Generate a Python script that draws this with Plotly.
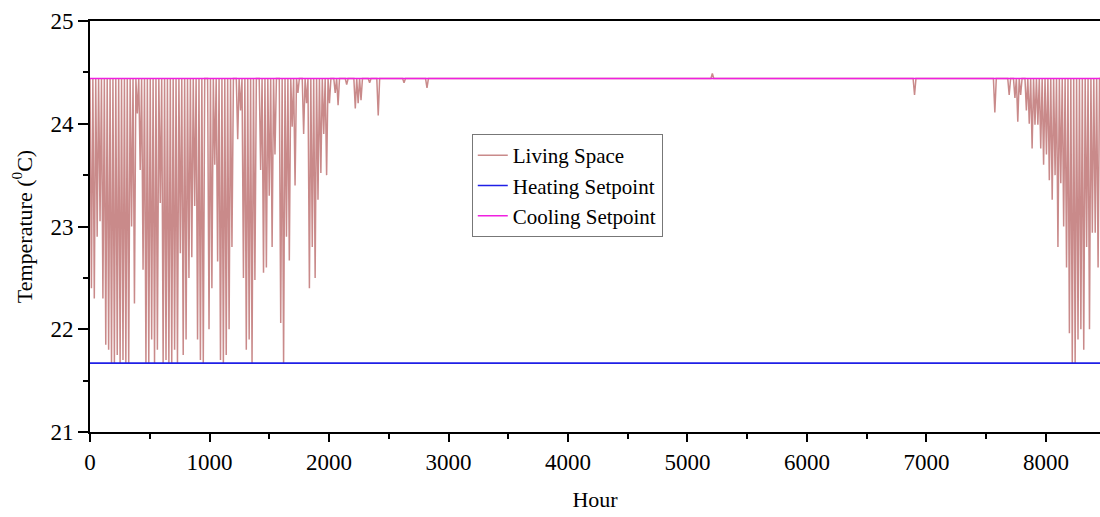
import plotly.graph_objects as go

# ---- data ----
cooling_setpoint = 24.44   # degC
heating_setpoint = 21.67   # degC

# days (0-based day of year) on which the living-space temperature dips below
# the cooling setpoint, and the minimum temperature reached that day
dip_days = list(range(0, 84)) + [85, 86, 89, 92, 93, 94, 97, 100, 109, 117, 287,
            315, 320, 322, 323, 324, 326, 327, 328, 329, 330, 331, 332, 333, 334, 335,
            336, 337, 338, 339, 340, 341, 342, 343, 344, 345, 346, 347, 348, 349, 350, 351, 352]
dip_mins = [
    22.40, 22.30, 22.90, 23.05, 22.30, 21.85, 21.80, 21.67, 21.67, 21.75,
    21.67, 21.70, 21.67, 21.67, 23.00, 22.25, 24.10, 23.55, 22.58, 21.67,
    21.67, 21.90, 21.67, 21.80, 23.23, 21.67, 21.70, 21.67, 21.67, 21.80,
    21.67, 22.74, 21.75, 21.90, 22.50, 22.70, 23.20, 21.90, 21.70, 21.67,
    24.44, 22.00, 22.40, 23.60, 22.66, 21.70, 21.67, 21.75, 22.00, 22.80,
    24.44, 23.85, 24.13, 22.50, 21.80, 21.90, 21.67, 22.48, 24.44, 23.55,
    22.55, 22.60, 23.30, 22.80, 23.70, 24.44, 22.06, 21.67, 22.90, 22.67,
    23.97, 23.40, 24.30, 24.44, 23.90, 24.20, 22.40, 22.80, 22.50, 23.26,
    23.52, 23.90, 23.50, 24.20,
    24.30, 24.18, 24.38, 24.15, 24.20, 24.23, 24.40, 24.08, 24.40, 24.35, 24.28,
    24.11, 24.28, 24.25, 24.02, 24.28, 24.13, 24.00, 23.76, 23.99, 23.99, 23.76,
    23.60, 23.70, 23.45, 23.26, 23.50, 22.80, 23.42, 23.00, 22.60, 21.96,
    21.67, 21.67, 21.90, 22.00, 21.80, 22.80, 22.00, 22.94, 22.94, 22.60,
]
# days on which the temperature briefly exceeds the cooling setpoint
peak_days = [217]
peak_maxes = [24.49]

n_days = 365
x_ticks = [0, 1000, 2000, 3000, 4000, 5000, 6000, 7000, 8000]
y_ticks = [21, 22, 23, 24, 25]

# ---- build the living-space trace (one min and one max point per day) ----
dmin = dict(zip(dip_days, dip_mins))
dmax = dict(zip(peak_days, peak_maxes))
xs, ys = [], []
for d in range(n_days):
    xs.append(d * 24)
    ys.append(dmax.get(d, cooling_setpoint))
    xs.append(d * 24 + 12)
    ys.append(dmin.get(d, cooling_setpoint))
xs.append(n_days * 24)
ys.append(cooling_setpoint)

serif = "Liberation Serif, Times New Roman, serif"

fig = go.Figure()
fig.add_trace(go.Scatter(x=xs, y=ys, mode="lines", name="Living Space",
                         line=dict(color="#c98a8a", width=1.5)))
fig.add_trace(go.Scatter(x=[0, n_days * 24], y=[heating_setpoint] * 2, mode="lines",
                         name="Heating Setpoint", line=dict(color="#1f1fe6", width=1.6)))
fig.add_trace(go.Scatter(x=[0, n_days * 24], y=[cooling_setpoint] * 2, mode="lines",
                         name="Cooling Setpoint", line=dict(color="#f020e0", width=1.6)))

fig.update_layout(
    width=1100, height=517,
    margin=dict(l=90, r=0, t=21, b=85),
    paper_bgcolor="white", plot_bgcolor="white",
    font=dict(family=serif, size=22, color="black"),
    showlegend=True,
    legend=dict(x=0.378, y=0.725, xanchor="left", yanchor="top",
                bordercolor="#777777", borderwidth=1, bgcolor="white",
                font=dict(family=serif, size=21), tracegroupgap=0,
                itemwidth=30),
)
fig.update_xaxes(
    range=[0, 8452], tickvals=x_ticks, ticktext=[str(v) for v in x_ticks],
    showgrid=False, zeroline=False,
    showline=True, linecolor="black", linewidth=2, mirror=True,
    ticks="outside", ticklen=8, tickwidth=2, tickcolor="black",
    minor=dict(dtick=500, ticks="outside", ticklen=5, tickwidth=2, tickcolor="black", showgrid=False),
    tickfont=dict(family=serif, size=23),
    title=dict(text="Hour", font=dict(family=serif, size=22), standoff=18),
)
fig.update_yaxes(
    range=[21, 25], tickvals=y_ticks, ticktext=[str(v) for v in y_ticks],
    showgrid=False, zeroline=False,
    showline=True, linecolor="black", linewidth=2,
    ticks="outside", ticklen=10, tickwidth=2, tickcolor="black",
    minor=dict(dtick=0.5, ticks="outside", ticklen=5, tickwidth=2, tickcolor="black", showgrid=False),
    tickfont=dict(family=serif, size=23),
    title=dict(text="Temperature (<sup>0</sup>C)", font=dict(family=serif, size=22), standoff=12),
)

fig.write_html("out.html")
